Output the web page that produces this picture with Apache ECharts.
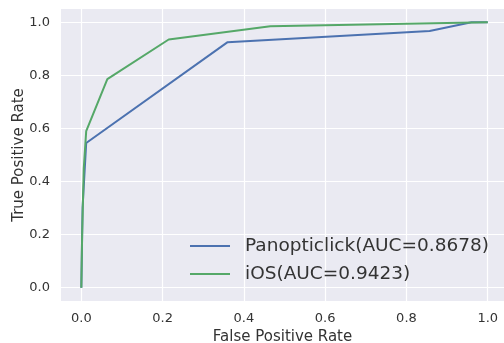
<!DOCTYPE html>
<html>
<head>
<meta charset="utf-8">
<script src="https://cdn.jsdelivr.net/npm/echarts@6/dist/echarts.min.js"></script>
<style>
  html, body { margin: 0; padding: 0; background: #fff; }
  #chart { width: 504px; height: 343px; }
</style>
</head>
<body>
<div id="chart"></div>
<script>
const tickValues = [0, 0.2, 0.4, 0.6, 0.8, 1.0];

const panopticlickFpr = [0, 0.003, 0.012, 0.36, 0.857, 0.96, 1.0];
const panopticlickTpr = [0, 0.3, 0.545, 0.925, 0.967, 1.0, 1.0];

const iosFpr = [0, 0.002, 0.006, 0.012, 0.064, 0.215, 0.465, 1.0];
const iosTpr = [0, 0.2, 0.45, 0.59, 0.786, 0.935, 0.985, 1.0];

const seriesNames = ["Panopticlick(AUC=0.8678)", "iOS(AUC=0.9423)"];

const toPairs = (xs, ys) => xs.map((x, i) => [x, ys[i]]);

const chart = echarts.init(document.getElementById("chart"));
const font = "DejaVu Sans";
const textColor = "#333";

chart.setOption({
  animation: false,
  backgroundColor: "#fff",
  color: ["#4C72B0", "#55A868"],
  grid: {
    left: 61,
    right: 0,
    top: 9,
    bottom: 42,
    outerBoundsMode: "none",
    show: true,
    backgroundColor: "#EAEAF2",
    borderWidth: 0,
  },
  xAxis: {
    type: "value",
    min: -0.05,
    max: 1.04,
    name: "False Positive Rate",
    nameLocation: "middle",
    nameGap: 29,
    nameMoveOverlap: false,
    nameTextStyle: { fontFamily: font, fontSize: 15, color: textColor },
    axisLine: { show: false },
    axisTick: { show: false, customValues: tickValues },
    axisLabel: {
      customValues: tickValues,
      formatter: (v) => v.toFixed(1),
      fontFamily: font,
      fontSize: 13,
      color: textColor,
      margin: 11,
    },
    splitLine: { show: true, lineStyle: { color: "#fff", width: 1.2 } },
  },
  yAxis: {
    type: "value",
    min: -0.05,
    max: 1.05,
    name: "True Positive Rate",
    nameLocation: "middle",
    nameGap: 34,
    nameMoveOverlap: false,
    nameRotate: 90,
    nameTextStyle: { fontFamily: font, fontSize: 15, color: textColor },
    axisLine: { show: false },
    axisTick: { show: false, customValues: tickValues },
    axisLabel: {
      customValues: tickValues,
      formatter: (v) => v.toFixed(1),
      fontFamily: font,
      fontSize: 13,
      color: textColor,
      margin: 11,
    },
    splitLine: { show: true, lineStyle: { color: "#fff", width: 1.2 } },
  },
  legend: {
    orient: "vertical",
    left: 185,
    top: 230,
    icon: "rect",
    itemWidth: 40,
    itemHeight: 2,
    itemGap: 6,
    textStyle: {
      fontFamily: font,
      fontSize: 18.5,
      color: textColor,
      lineHeight: 22,
      padding: [0, 0, 0, 10],
    },
    data: seriesNames,
  },
  series: [
    {
      name: seriesNames[0],
      type: "line",
      data: toPairs(panopticlickFpr, panopticlickTpr),
      symbol: "none",
      lineStyle: { width: 2 },
    },
    {
      name: seriesNames[1],
      type: "line",
      data: toPairs(iosFpr, iosTpr),
      symbol: "none",
      lineStyle: { width: 2 },
    },
  ],
});
</script>
</body>
</html>
